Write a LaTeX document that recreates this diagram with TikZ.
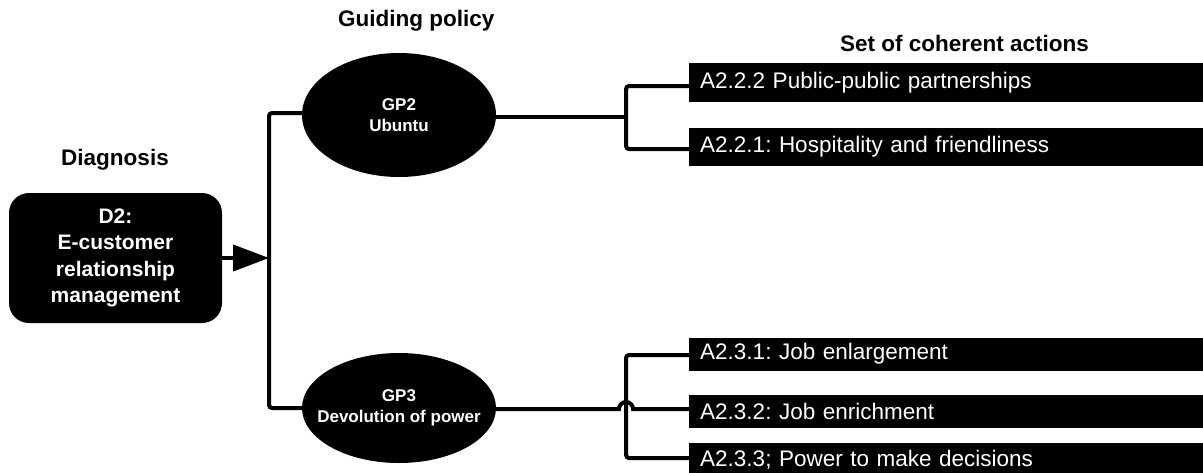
\documentclass[tikz,border=0pt]{standalone}
\usepackage{fontspec}
\setmainfont{Liberation Sans}
\usetikzlibrary{arrows.meta,shapes.geometric}
\frenchspacing
\begin{document}
\begin{tikzpicture}[x=1pt,y=-1pt,
  wire/.style={line width=4pt, rounded corners=3pt},
  heading/.style={font=\fontsize{22.5}{26}\selectfont\bfseries, inner sep=0pt},
  diagbox/.style={fill=black, text=white, rounded corners=20pt, minimum width=213pt,
    minimum height=130pt, align=center, font=\fontsize{21}{26.5}\selectfont\bfseries},
  policy/.style={ellipse, fill=black, inner sep=0pt, minimum width=194pt},
  policytext/.style={text=white, align=center, inner sep=0pt,
    font=\fontsize{17}{21.5}\selectfont\bfseries},
  action/.style={fill=black, text=white, anchor=west, minimum width=514pt,
    text width=492pt, inner xsep=11pt, inner ysep=0pt, align=left,
    font=\fontsize{22.5}{26}\selectfont}
]
\useasboundingbox (0,0) rectangle (1203,472);

% column headings
\node[heading] (hdiag) at (115,160) {Diagnosis};
\node[heading, anchor=west] (hgp) at (338,21) {Guiding policy};
\node[heading, anchor=west] (hact) at (840,43.5) {Set of coherent actions};

% diagnosis
\node[diagbox] (diag) at (115.5,258) {D2:\\E-customer\\relationship\\management};

% guiding policies
\node[policy, minimum height=124pt] (gp2) at (399,115) {};
\node[policytext] (gp2t) at (gp2.center) {GP2\\Ubuntu};
\node[policy, minimum height=110pt] (gp3) at (399,408) {};
\node[policytext] (gp3t) at (gp3.center) {GP3\\Devolution of power};

% actions
\node[action, minimum height=39pt] (a222) at (689,82.5) {A2.2.2 Public-public partnerships};
\node[action, minimum height=38pt] (a221) at (689,147) {A2.2.1: Hospitality and friendliness};
\node[action, minimum height=33pt] (a231) at (689,354) {A2.3.1: Job enlargement};
\node[action, minimum height=33pt] (a232) at (689,411) {A2.3.2: Job enrichment};
\node[action, minimum height=33pt] (a233) at (689,459.5) {A2.3.3; Power to make decisions};

% junction points
\coordinate (lt) at (269,113);
\coordinate (lb) at (269,408);
\coordinate (la) at (269,258);
\coordinate (rt1) at (626,86);
\coordinate (rt2) at (626,149);
\coordinate (rtm) at (626,117);
\coordinate (rb1) at (626,355);
\coordinate (rb2) at (626,458);
\coordinate (rbm) at (626,409);

% diagnosis to policies
\draw[wire] (gp2.west |- lt) -- (lt) -- (lb) -- (gp3.west |- lb);
\draw[line width=4pt, -{Triangle[length=36pt,width=26pt]}] (diag.east |- la) -- (la);

% GP2 to its actions
\draw[wire] (gp2.east |- rtm) -- (rtm);
\draw[wire] (a222.west |- rt1) -- (rt1) -- (rt2) -- (a221.west |- rt2);

% GP3 to its actions, hopping over the vertical bar
\draw[wire] (a231.west |- rb1) -- (rb1) -- (rb2) -- (a233.west |- rb2);
\draw[line width=4pt] (gp3.east |- rbm) -- ([xshift=-7pt]rbm)
  arc[start angle=180, end angle=0, radius=7pt] -- (a232.west |- rbm);
\end{tikzpicture}
\end{document}
